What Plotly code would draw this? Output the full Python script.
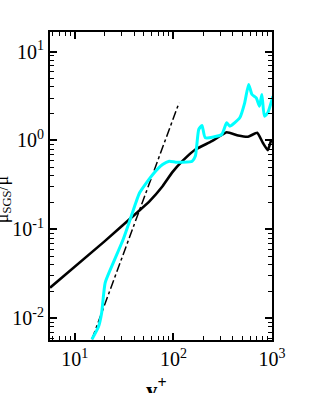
import plotly.graph_objects as go

# Black curve (model 1)
black_x = [5.6, 20.0, 42.0, 57.1, 77.6, 97.7, 123.0, 167.0, 245.5, 346.7, 453.9, 571.5, 707.9, 807.2, 905.7, 977.2, 1023.0]
black_y = [0.0221, 0.0733, 0.152, 0.207, 0.306, 0.44, 0.585, 0.792, 0.982, 1.239, 1.138, 1.102, 1.222, 0.942, 0.778, 0.982, 1.007]

# Cyan curve (model 2)
cyan_x = [14.9, 17.4, 18.7, 20.3, 24.5, 30.9, 37.4, 45.4, 61.7, 77.6, 90.6, 105.4, 123.0, 155.0, 167.0, 180.7, 195.0, 210.4, 309.0, 346.7, 374.1, 471.0, 528.4, 579.4, 626.6, 691.8, 746.4, 788.9, 837.5, 905.7, 1023.0]
cyan_y = [0.0058, 0.0081, 0.0115, 0.0251, 0.042, 0.0769, 0.141, 0.258, 0.415, 0.537, 0.585, 0.57, 0.57, 0.585, 0.667, 1.33, 1.476, 1.072, 1.167, 1.581, 1.449, 1.8, 2.655, 4.266, 3.289, 3.02, 2.432, 3.289, 1.875, 2.046, 3.15]

# Dash-dot reference line
ref_x = [14.9, 114.0]
ref_y = [0.0058, 2.65]

xtick_vals = [10, 100, 1000]
xtick_text = ["10<sup>1</sup>", "10<sup>2</sup>", "10<sup>3</sup>"]
ytick_vals = [0.01, 0.1, 1, 10]
ytick_text = ["10<sup>-2</sup>", "10<sup>-1</sup>", "10<sup>0</sup>", "10<sup>1</sup>"]

x_minor = [v * m for v in [1, 10, 100] for m in range(2, 10)] + [6, 7, 8, 9]
y_minor = [v * m for v in [0.001, 0.01, 0.1, 1, 10] for m in range(2, 10)]

fig = go.Figure()
fig.add_trace(go.Scatter(x=ref_x, y=ref_y, mode="lines",
                         line=dict(color="black", width=1.5, dash="dashdot")))
fig.add_trace(go.Scatter(x=black_x, y=black_y, mode="lines",
                         line=dict(color="black", width=2.6, shape="spline", smoothing=0.4)))
fig.add_trace(go.Scatter(x=cyan_x, y=cyan_y, mode="lines",
                         line=dict(color="#00FFFF", width=3, shape="spline", smoothing=0.5)))

axis_common = dict(
    showgrid=False, zeroline=False, showline=True, linecolor="black", linewidth=2,
    mirror="allticks", ticks="inside", ticklen=7, tickwidth=1.5, tickcolor="black",
    tickfont=dict(family="Liberation Serif", size=20, color="black"),
)

fig.update_xaxes(type="log", range=[0.748, 3.0], tickmode="array",
                 tickvals=xtick_vals, ticktext=xtick_text,
                 minor=dict(ticks="inside", ticklen=4, tickcolor="black", tickwidth=1,
                            tickmode="array", tickvals=x_minor, showgrid=False),
                 **axis_common)
fig.update_yaxes(type="log", range=[-2.244, 1.22], tickmode="array",
                 tickvals=ytick_vals, ticktext=ytick_text,
                 minor=dict(ticks="inside", ticklen=4, tickcolor="black", tickwidth=1,
                            tickmode="array", tickvals=y_minor, showgrid=False),
                 **axis_common)

fig.add_annotation(text="<b>y<sup>+</sup></b>", xref="paper", yref="paper",
                   x=0.48, y=-0.104, xanchor="center", yanchor="top", showarrow=False,
                   font=dict(family="Liberation Serif", size=23, color="black"))
fig.add_annotation(text="μ<sub>SGS</sub>/μ",
                   xref="paper", yref="paper",
                   x=-0.21, y=0.455, xanchor="center", yanchor="middle", showarrow=False,
                   textangle=-90,
                   font=dict(family="Liberation Serif", size=18, color="black"))

fig.update_layout(
    width=314, height=393, showlegend=False,
    margin=dict(l=46, r=42, t=32, b=53),
    paper_bgcolor="white", plot_bgcolor="white",
)

fig.write_html("out.html", config={"displayModeBar": False},
               post_script="document.body.style.margin='0px';")
